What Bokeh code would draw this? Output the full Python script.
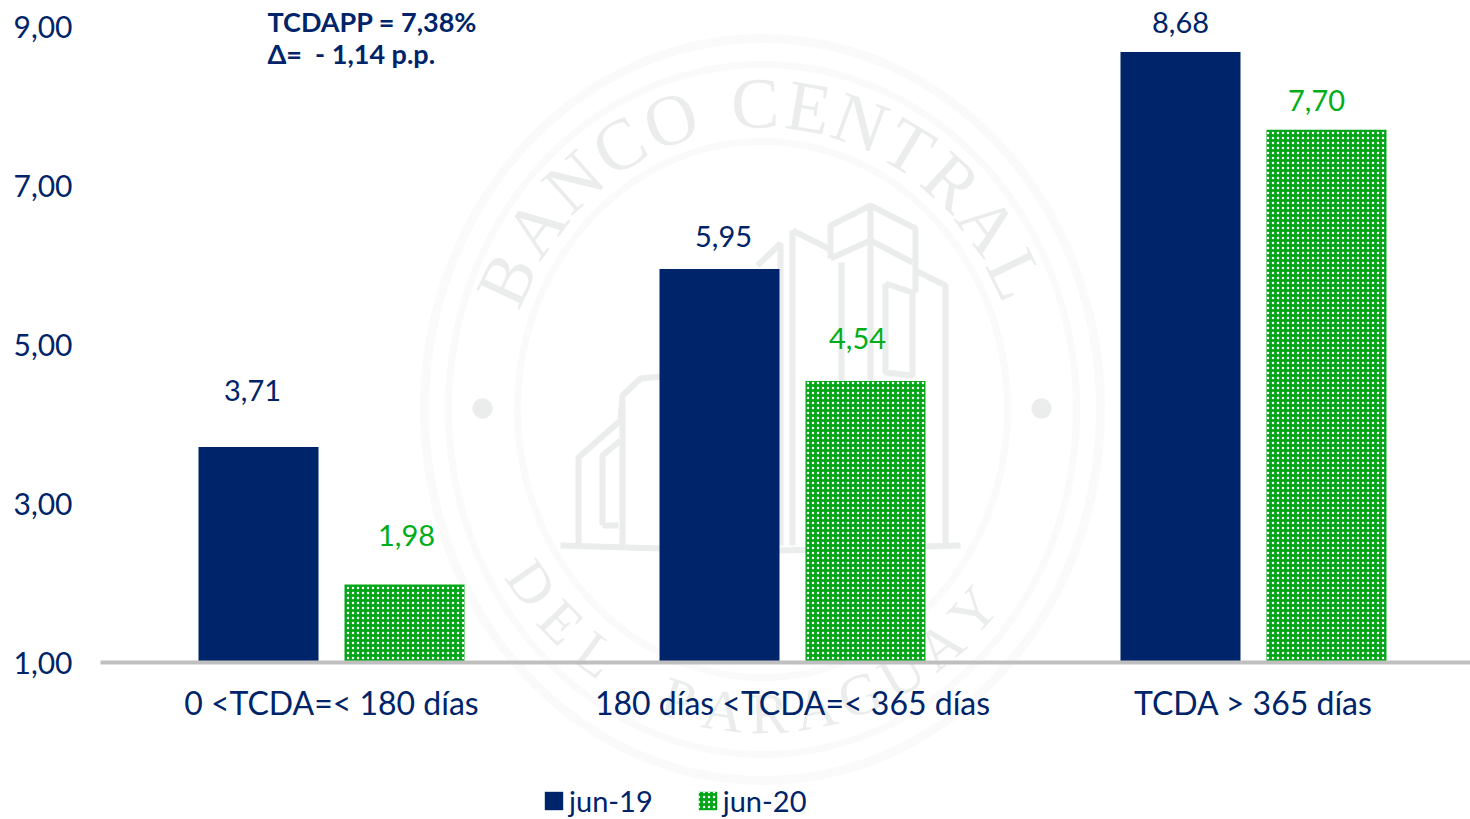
import numpy as np
from bokeh.plotting import figure
from bokeh.embed import file_html
from bokeh.resources import INLINE
from bokeh.core.properties import value
from bokeh.models import (ColumnDataSource, Range1d, FixedTicker, Legend, LegendItem,
                          PolyAnnotation, Label)

categories = ["0 <TCDA=< 180 días", "180 días <TCDA=< 365 días", "TCDA > 365 días"]
jun19 = [3.71, 5.95, 8.68]
jun20 = [1.98, 4.54, 7.70]
y_ticks = [1, 3, 5, 7, 9]
y_tick_labels = ["1,00", "3,00", "5,00", "7,00", "9,00"]
series_names = ["jun-19", "jun-20"]
note_lines = ["TCDAPP = 7,38%", "Δ=\u00a0\u00a0- 1,14 p.p."]
seal_top = "BANCO CENTRAL"
seal_bottom = "DEL PARAGUAY"

NAVY = "#002469"
GREEN = "#00A616"
LABEL_GREEN = "#00AE1A"
MARK = "#EAEDEC"
FONT = "Lato"

# the plot frame fills the figure; both axes are fixed inside it
W, H = 1470, 819
AX_L, AX_B = 100, 662                  # where the axes lie, in pixels from top-left
PX_X, PX_Y = 461.0, 79.5               # pixels per category, pixels per unit
X0 = 331.0                             # x of the first category centre
OX, OY = 0, 0                          # page offset of the figure


def dx(px):
    return (px - X0) / PX_X


def dy(py):
    return 1 + (AX_B - py) / PX_Y


p = figure(width=W, height=H, output_backend="svg", toolbar_location=None,
           x_range=Range1d(dx(0), dx(W)), y_range=Range1d(dy(H), dy(0)),
           min_border=0, outline_line_color=None)
p.grid.visible = False


# ---- watermark, behind the bars
def cx(px):
    return float(px - OX)


def cy(py):
    return float(py - OY)


for rx, ry, lw in [(338, 371, 9), (314, 345, 7), (245, 268, 7)]:
    t = np.linspace(0, 2 * np.pi, 241)
    p.add_layout(PolyAnnotation(xs=[cx(v) for v in 762 + rx * np.cos(t)], ys=[cy(v) for v in 409 + ry * np.sin(t)],
                                xs_units="canvas", ys_units="canvas",
                                fill_alpha=0, line_color=MARK, line_width=lw, level="underlay"))
for c in (482, 1041):
    t = np.linspace(0, 2 * np.pi, 25)
    p.add_layout(PolyAnnotation(xs=[cx(v) for v in c + 10 * np.cos(t)], ys=[cy(v) for v in 408 + 10 * np.sin(t)],
                                xs_units="canvas", ys_units="canvas",
                                fill_color=MARK, fill_alpha=1, line_color=MARK, level="underlay"))

RX, RY = 282, 305
top_angles = [-65 + 11.5 * i for i in range(5)] + [0] + [-1.5 + 10.9 * i for i in range(7)]
for ch, deg in zip(seal_top, top_angles):
    if ch == " ":
        continue
    a = np.radians(deg)
    p.add_layout(Label(x=cx(762 + RX * np.sin(a)), y=cy(408 - RY * np.cos(a)),
                       x_units="canvas", y_units="canvas", text=ch, angle=-float(a),
                       text_font="Liberation Serif", text_font_size="72px",
                       text_color=MARK, text_align="center", text_baseline="middle",
                       level="underlay"))
for i, ch in enumerate(seal_bottom):
    if ch == " ":
        continue
    a = np.radians(-55 + i * 9.4)
    p.add_layout(Label(x=cx(762 + RX * np.sin(a)), y=cy(408 + RY * np.cos(a)),
                       x_units="canvas", y_units="canvas", text=ch, angle=float(a),
                       text_font="Liberation Serif", text_font_size="58px",
                       text_color=MARK, text_align="center", text_baseline="middle",
                       level="underlay"))

building = [
    [(830, 258), (830, 225), (870, 205), (915, 228), (915, 292)],
    [(830, 258), (870, 240), (912, 262)],
    [(870, 205), (870, 545)],
    [(757, 265), (780, 243), (780, 545)],
    [(792, 230), (828, 248)],
    [(792, 230), (792, 545)],
    [(841, 262), (841, 545)],
    [(915, 270), (945, 285), (945, 545)],
    [(885, 283), (912, 292), (912, 375), (885, 372), (885, 283)],
    [(578, 545), (578, 457), (620, 420), (622, 395), (640, 378), (662, 376)],
    [(602, 525), (602, 455), (620, 440)],
    [(602, 525), (618, 525)],
    [(622, 400), (622, 545)],
    [(560, 545), (660, 548), (780, 550), (960, 545)],
]
p.multi_line([[dx(q[0]) for q in seg] for seg in building],
             [[dy(q[1]) for q in seg] for seg in building],
             line_color=MARK, line_width=6, level="underlay")

# ---- bars
OFF = 73 / PX_X
BW = 120 / PX_X
idx = np.arange(len(categories))
src19 = ColumnDataSource(dict(x=idx - OFF, top=jun19, label=[f"{v:.2f}".replace(".", ",") for v in jun19]))
src20 = ColumnDataSource(dict(x=idx + OFF, top=jun20, label=[f"{v:.2f}".replace(".", ",") for v in jun20]))

r19 = p.vbar(x="x", top="top", bottom=1, width=BW, source=src19, fill_color=NAVY, line_color=None)
r20 = p.vbar(x="x", top="top", bottom=1, width=BW, source=src20, fill_color=GREEN, line_color=None,
             hatch_pattern="dot", hatch_color="white", hatch_scale=5, hatch_weight=2)

# value labels sit where they were dragged to, so each has its own offset
src19.data["ox"] = [-6, 4, 0]
src19.data["oy"] = [-57, -32, -29]
src20.data["ox"] = [2, -8, -10]
src20.data["oy"] = [-49, -43, -29]
for s, col in ((src19, NAVY), (src20, LABEL_GREEN)):
    p.text(x="x", y="top", text="label", source=s, x_offset="ox", y_offset="oy",
           text_font=value(FONT), text_font_size="29px", text_color=col,
           text_align="center", text_baseline="middle")

# ---- axes
xa = p.xaxis[0]
xa.fixed_location = 1
xa.bounds = (dx(AX_L), dx(W))
xa.ticker = FixedTicker(ticks=[int(i) for i in idx])
xa.major_label_overrides = {int(i): c for i, c in zip(idx, categories)}
xa.major_tick_line_color = None
xa.minor_tick_line_color = None
xa.axis_line_color = "#BFBFBF"
xa.axis_line_width = 4
xa.major_label_standoff = 14
xa.major_label_text_font = FONT
xa.major_label_text_font_size = "32px"
xa.major_label_text_color = NAVY

ya = p.yaxis[0]
ya.fixed_location = dx(AX_L)
ya.ticker = FixedTicker(ticks=y_ticks)
ya.major_label_overrides = {t: l for t, l in zip(y_ticks, y_tick_labels)}
ya.axis_line_color = None
ya.major_tick_line_color = None
ya.minor_tick_line_color = None
ya.major_label_standoff = 22
ya.major_label_text_font = FONT
ya.major_label_text_font_size = "30px"
ya.major_label_text_color = NAVY

# ---- note
for line, py in zip(note_lines, (21, 53)):
    p.add_layout(Label(x=cx(267), y=cy(py), x_units="canvas", y_units="canvas", text=line,
                       text_font=FONT, text_font_size="27px", text_font_style="bold",
                       text_color=NAVY, text_align="left", text_baseline="middle"))

# ---- legend
legend = Legend(items=[LegendItem(label=series_names[0], renderers=[r19]),
                       LegendItem(label=series_names[1], renderers=[r20])],
                orientation="horizontal", location=(542, 1),
                background_fill_alpha=0, border_line_alpha=0, padding=0, margin=0,
                spacing=43, glyph_width=23, glyph_height=23, label_standoff=4,
                label_text_font=FONT, label_text_font_size="29px", label_text_color=NAVY)
p.add_layout(legend, "center")

open("out.html", "w").write(file_html(p, INLINE))
